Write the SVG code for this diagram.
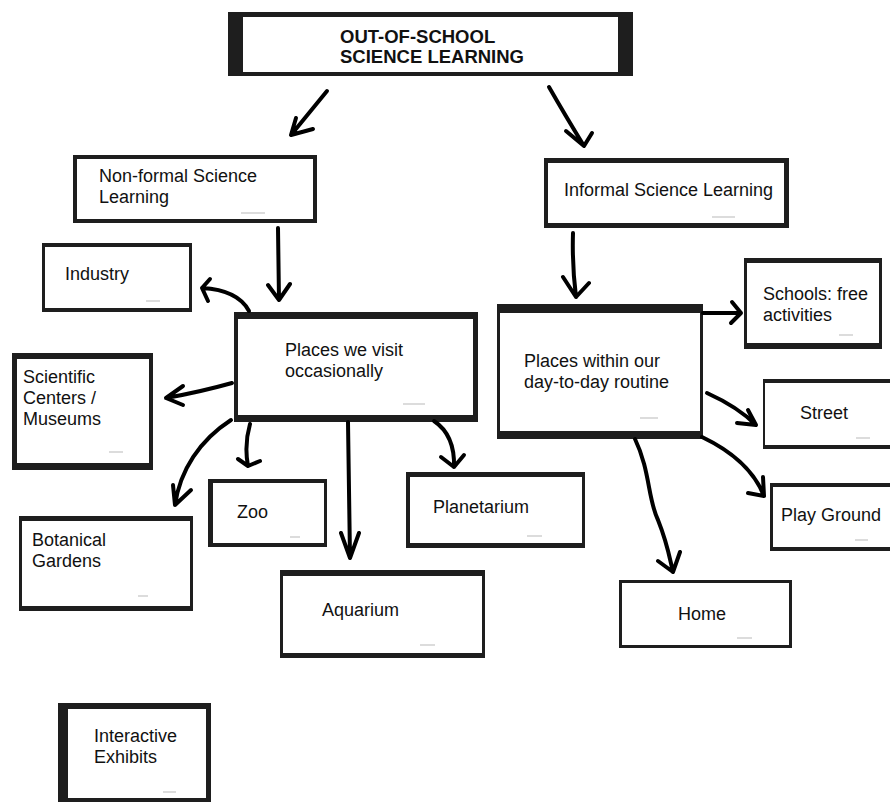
<svg xmlns="http://www.w3.org/2000/svg" width="890" height="802" viewBox="0 0 890 802">
<style>
.b{fill:#1e1e1e}
.i{fill:#fff}
.t{font-family:"Liberation Sans",Arial,sans-serif;font-size:18px;fill:#111}
.h{font-family:"Liberation Sans",Arial,sans-serif;font-size:18.5px;font-weight:bold;fill:#111}
.d{stroke:#d0d0d0;stroke-width:1.5;fill:none}
.a{fill:none;stroke:#000;stroke-width:4;stroke-linecap:round;stroke-linejoin:round}
</style>
<rect width="890" height="802" fill="#fff"/>
<g id="title">
<rect class="b" x="228" y="12" width="405" height="64"/>
<rect class="i" x="243" y="17" width="375" height="55"/>
<text class="h" x="340" y="42.5">OUT-OF-SCHOOL</text>
<text class="h" x="340" y="63">SCIENCE LEARNING</text>
</g>
<g id="nonformal">
<rect class="b" x="73" y="155" width="244" height="68"/>
<rect class="i" x="77" y="159" width="236" height="60"/>
<text class="t" x="99" y="182">Non-formal Science</text>
<text class="t" x="99" y="203">Learning</text>
<line class="d" x1="241" y1="213" x2="265" y2="213"/>
</g>
<g id="informal">
<rect class="b" x="544" y="158" width="245" height="70"/>
<rect class="i" x="548" y="163" width="236" height="60"/>
<text class="t" x="564" y="196">Informal Science Learning</text>
<line class="d" x1="712" y1="217" x2="735" y2="217"/>
</g>
<g id="industry">
<rect class="b" x="42" y="243" width="150" height="69"/>
<rect class="i" x="45" y="247" width="144" height="61"/>
<text class="t" x="65" y="280">Industry</text>
<line class="d" x1="146" y1="301" x2="160" y2="301"/>
</g>
<g id="occasionally">
<rect class="b" x="234" y="312" width="244" height="110"/>
<rect class="i" x="238" y="319" width="235" height="96"/>
<text class="t" x="285" y="356">Places we visit</text>
<text class="t" x="285" y="377">occasionally</text>
<line class="d" x1="403" y1="404" x2="425" y2="404"/>
</g>
<g id="scientific">
<rect class="b" x="12" y="353" width="141" height="117"/>
<rect class="i" x="17" y="359" width="132" height="104"/>
<text class="t" x="23" y="383">Scientific</text>
<text class="t" x="23" y="404">Centers /</text>
<text class="t" x="23" y="425">Museums</text>
<line class="d" x1="109" y1="452" x2="123" y2="452"/>
</g>
<g id="routine">
<rect class="b" x="497" y="304" width="206" height="135"/>
<rect class="i" x="500" y="313" width="200" height="118"/>
<text class="t" x="524" y="367">Places within our</text>
<text class="t" x="524" y="388">day-to-day routine</text>
<line class="d" x1="640" y1="418" x2="658" y2="418"/>
</g>
<g id="schools">
<rect class="b" x="744" y="258" width="138" height="91"/>
<rect class="i" x="747" y="263" width="132" height="80"/>
<text class="t" x="763" y="300">Schools: free</text>
<text class="t" x="763" y="321">activities</text>
<line class="d" x1="839" y1="335" x2="853" y2="335"/>
</g>
<g id="street">
<rect class="b" x="763" y="379" width="130" height="70"/>
<rect class="i" x="765" y="383" width="128" height="62"/>
<text class="t" x="800" y="419">Street</text>
<line class="d" x1="856" y1="438" x2="870" y2="438"/>
</g>
<g id="playground">
<rect class="b" x="770" y="483" width="123" height="68"/>
<rect class="i" x="773" y="487" width="120" height="60"/>
<text class="t" x="781" y="521">Play Ground</text>
<line class="d" x1="855" y1="540" x2="868" y2="540"/>
</g>
<g id="zoo">
<rect class="b" x="208" y="479" width="119" height="68"/>
<rect class="i" x="213" y="483" width="111" height="60"/>
<text class="t" x="237" y="518">Zoo</text>
<line class="d" x1="290" y1="537" x2="300" y2="537"/>
</g>
<g id="planetarium">
<rect class="b" x="406" y="472" width="179" height="76"/>
<rect class="i" x="410" y="477" width="172" height="66"/>
<text class="t" x="433" y="513">Planetarium</text>
<line class="d" x1="527" y1="536" x2="542" y2="536"/>
</g>
<g id="botanical">
<rect class="b" x="19" y="516" width="174" height="95"/>
<rect class="i" x="22" y="521" width="168" height="85"/>
<text class="t" x="32" y="546">Botanical</text>
<text class="t" x="32" y="567">Gardens</text>
<line class="d" x1="138" y1="596" x2="148" y2="596"/>
</g>
<g id="aquarium">
<rect class="b" x="280" y="570" width="205" height="88"/>
<rect class="i" x="283" y="576" width="199" height="77"/>
<text class="t" x="322" y="616">Aquarium</text>
<line class="d" x1="420" y1="645" x2="435" y2="645"/>
</g>
<g id="home">
<rect class="b" x="619" y="580" width="173" height="68"/>
<rect class="i" x="622" y="583" width="167" height="62"/>
<text class="t" x="678" y="620">Home</text>
<line class="d" x1="737" y1="638" x2="752" y2="638"/>
</g>
<g id="interactive">
<rect class="b" x="58" y="703" width="153" height="102"/>
<rect class="i" x="68" y="709" width="138" height="89"/>
<text class="t" x="94" y="742">Interactive</text>
<text class="t" x="94" y="763">Exhibits</text>
<line class="d" x1="163" y1="792" x2="176" y2="792"/>
</g>
<g id="connectors">
<path class="a" d="M327,91 L291,135 M296,118 L291,135 L313,129"/>
<path class="a" d="M549,87 Q565,115 584,146 M566,131 L584,146 L592,133"/>
<path class="a" d="M278,228 L279,300 M268,285 L279,300 L290,284"/>
<path class="a" d="M249,311 Q238,290 202,288 M210,279 L202,288 L208,301"/>
<path class="a" d="M232,383 Q200,392 166,398 M183,386 L166,398 L183,405"/>
<path class="a" d="M231,420 C200,440 180,470 175,505 M173,485 L175,505 L191,490"/>
<path class="a" d="M250,424 Q244,445 248,466 M238,459 L248,466 L260,461"/>
<path class="a" d="M348,422 L350,558 M341,533 L350,558 L359,533"/>
<path class="a" d="M434,421 Q455,435 454,467 M441,457 L454,467 L464,455"/>
<path class="a" d="M573,233 Q572,265 576,297 M563,277 L576,297 L589,283"/>
<path class="a" d="M703,313 L741,313 M732,302 L741,313 L731,323"/>
<path class="a" d="M707,393 Q738,407 756,425 M748,410 L756,425 L737,423"/>
<path class="a" d="M702,437 Q750,460 764,496 M763,477 L764,496 L748,493"/>
<path class="a" d="M635,439 C650,470 648,500 658,520 C668,545 670,560 673,572 M658,561 L673,572 L680,552"/>
</g>
</svg>
